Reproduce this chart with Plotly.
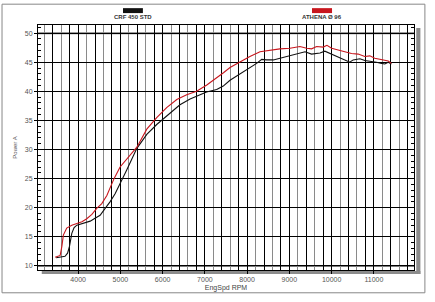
import plotly.graph_objects as go

# ---- data ----
crf_rpm = [3480, 3575, 3690, 3750, 3795, 3850, 3905, 3970, 4090, 4205, 4285, 4400, 4520, 4640,
           4755, 4875, 4990, 5150, 5390, 5625, 5860, 6175, 6410, 6650, 6885, 7040, 7280, 7435,
           7595, 7830, 8065, 8225, 8345, 8460, 8620, 8775, 9015, 9250, 9370, 9525, 9725, 9840,
           9960, 10115, 10275, 10430, 10510, 10670, 10785, 10905, 11060, 11180, 11260, 11340, 11415]
crf_power = [11.4, 11.5, 11.65, 12.2, 13.35, 15.6, 16.6, 17.0, 17.3, 17.5, 17.7, 18.2, 18.7, 19.9,
             21.0, 22.4, 24.0, 26.5, 30.2, 32.6, 34.3, 36.3, 37.7, 38.7, 39.4, 39.9, 40.3, 40.9,
             41.9, 43.0, 44.0, 44.8, 45.5, 45.4, 45.4, 45.7, 46.1, 46.5, 46.8, 46.4, 46.6, 46.9,
             46.5, 46.0, 45.5, 45.0, 45.4, 45.6, 45.3, 45.2, 45.0, 44.8, 44.7, 45.0, 44.7]

ath_rpm = [3455, 3575, 3615, 3650, 3730, 3850, 3970, 4090, 4205, 4325, 4440, 4560, 4680, 4795,
           4850, 4993, 5190, 5390, 5625, 5860, 6095, 6335, 6570, 6805, 7045, 7280, 7440, 7595,
           7830, 8065, 8305, 8540, 8775, 9015, 9250, 9410, 9525, 9645, 9800, 9890, 10000, 10155,
           10315, 10470, 10630, 10785, 10905, 11020, 11140, 11260, 11340, 11415]
ath_power = [11.5, 11.8, 13.35, 15.3, 16.5, 17.0, 17.3, 17.6, 18.1, 18.85, 19.9, 20.7, 22.1, 24.1,
             25.0, 27.0, 28.7, 30.4, 33.5, 35.5, 37.2, 38.6, 39.4, 40.0, 41.1, 42.3, 43.2, 44.1,
             45.1, 46.0, 46.8, 47.1, 47.3, 47.4, 47.7, 47.4, 47.3, 47.7, 47.6, 47.9, 47.4, 47.1,
             46.8, 46.5, 46.4, 46.0, 46.1, 45.7, 45.5, 45.3, 45.2, 44.8]

series_names = ["CRF 450 STD", "ATHENA Ø 96"]
x_ticks = [4000, 5000, 6000, 7000, 8000, 9000, 10000, 11000]
x_tick_labels = ["4000", "5000", "6000", "7000", "8000", "9000", "10000", "11000"]
y_ticks = [10, 15, 20, 25, 30, 35, 40, 45, 50]
y_tick_labels = ["10", "15", "20", "25", "30", "35", "40", "45", "50"]
extra_black_grid = [3400, 3800, 4400, 4800, 5400, 5800, 6400, 6800, 7400, 7800,
                    8400, 8800, 9400, 9800, 10400, 10800, 11400, 11800]

X_RANGE = [3050, 11950]
Y_RANGE = [9.3, 51.4]

fig = go.Figure()
fig.add_trace(go.Scatter(x=crf_rpm, y=crf_power, mode="lines", name=series_names[0],
                         line=dict(color="#111111", width=1.1), showlegend=False))
fig.add_trace(go.Scatter(x=ath_rpm, y=ath_power, mode="lines", name=series_names[1],
                         line=dict(color="#c8161d", width=1.1), showlegend=False))

tickfont = dict(family="Liberation Sans, Arial", size=7, color="#555555")

fig.update_layout(
    width=435, height=302,
    margin=dict(l=38, r=21, t=25, b=30),
    paper_bgcolor="white", plot_bgcolor="white",
    xaxis=dict(range=X_RANGE, tickvals=x_ticks, ticktext=x_tick_labels,
               showgrid=True, gridcolor="#000000", gridwidth=1,
               showline=True, linecolor="#000000", linewidth=1, mirror=True,
               ticks="outside", ticklen=3, tickcolor="#000000", tickfont=tickfont,
               minor=dict(dtick=200, tick0=3000, showgrid=True, gridcolor="#8a8a8a", gridwidth=1,
                          ticks=""),
               title=dict(text="EngSpd RPM", font=dict(family="Liberation Sans, Arial", size=7,
                                                         color="#444444"), standoff=2),
               zeroline=False),
    xaxis2=dict(range=X_RANGE, overlaying="x", matches="x", tickvals=extra_black_grid,
                showgrid=True, gridcolor="#000000", gridwidth=1, showticklabels=False,
                ticks="", showline=False, zeroline=False),
    yaxis=dict(range=Y_RANGE, tickvals=y_ticks, ticktext=y_tick_labels,
               showgrid=True, gridcolor="#000000", gridwidth=1,
               showline=True, linecolor="#000000", linewidth=1, mirror=True,
               ticks="outside", ticklen=3, tickcolor="#000000", tickfont=tickfont,
               minor=dict(dtick=1, tick0=10, ticks="inside", ticklen=3, tickcolor="#000000",
                          showgrid=False),
               title=dict(text="Power A", font=dict(family="Liberation Sans, Arial", size=6,
                                                      color="#555555"), standoff=6),
               zeroline=False),
    yaxis2=dict(range=Y_RANGE, overlaying="y", matches="y", side="right", tickvals=y_ticks,
                showticklabels=False, showgrid=False, ticks="inside", ticklen=3,
                tickcolor="#000000",
                minor=dict(dtick=1, tick0=10, ticks="inside", ticklen=3, tickcolor="#000000"),
                zeroline=False),
)

# invisible trace to activate secondary axes
fig.add_trace(go.Scatter(x=[X_RANGE[0]], y=[Y_RANGE[0]], xaxis="x2", yaxis="y2",
                         mode="markers", marker=dict(opacity=0), showlegend=False,
                         hoverinfo="skip"))

shapes = []
# gray heavier lines at 10 and 50
for yv in (10, 50):
    shapes.append(dict(type="line", xref="paper", yref="y", x0=0, x1=1, y0=yv, y1=yv,
                       line=dict(color="#7a7a7a", width=2), layer="below"))
# drop shadow (right and bottom)
shapes.append(dict(type="rect", xref="paper", yref="paper", x0=1.006, x1=1.017, y0=-0.016, y1=0.988,
                   fillcolor="#8c8c8c", line=dict(width=0), layer="below"))
shapes.append(dict(type="rect", xref="paper", yref="paper", x0=0.01, x1=1.017, y0=-0.016, y1=-0.004,
                   fillcolor="#8c8c8c", line=dict(width=0), layer="below"))
# outer border
shapes.append(dict(type="rect", xref="paper", yref="paper", x0=-0.0957, x1=1.029, y0=-0.093, y1=1.085,
                   line=dict(color="#888888", width=1), fillcolor="rgba(0,0,0,0)"))
# legend swatches
shapes.append(dict(type="rect", xref="paper", yref="paper", x0=0.226, x1=0.279, y0=1.0486, y1=1.0688,
                   fillcolor="#111111", line=dict(width=0)))
shapes.append(dict(type="rect", xref="paper", yref="paper", x0=0.7287, x1=0.782, y0=1.0486, y1=1.0688,
                   fillcolor="#c8161d", line=dict(width=0)))
fig.update_layout(shapes=shapes)

legfont = dict(family="Liberation Sans, Arial", size=6, color="#333333")
fig.add_annotation(xref="paper", yref="paper", x=0.2525, y=1.032, text="<b>" + series_names[0] + "</b>",
                   showarrow=False, font=legfont, xanchor="center", yanchor="middle")
fig.add_annotation(xref="paper", yref="paper", x=0.7553, y=1.032, text="<b>" + series_names[1] + "</b>",
                   showarrow=False, font=legfont, xanchor="center", yanchor="middle")

fig.write_html("out.html")
